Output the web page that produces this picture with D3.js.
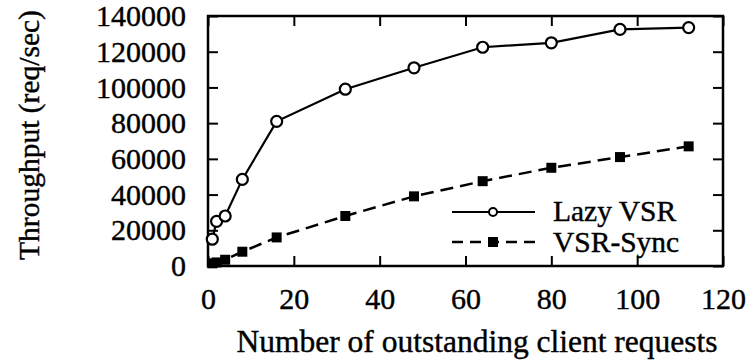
<!DOCTYPE html>
<html>
<head>
<meta charset="utf-8">
<script src="https://cdn.jsdelivr.net/npm/d3@7"></script>
<style>
  body { margin: 0; background: #fff; }
  text { font-family: "Liberation Serif", "Times New Roman", serif; fill: #000; stroke: #000; stroke-width: 0.4px; }
</style>
</head>
<body>
<script>
var width = 749, height = 363

// data
var clients = [1, 2, 4, 8, 16, 32, 48, 64, 80, 96, 112]
var lazyVSR = [15000, 25000, 28000, 48500, 81000, 99000, 111000, 122500, 125000, 132500, 133500]
var vsrSync = [1500, 2000, 3500, 8000, 16000, 28000, 39000, 47500, 55000, 61000, 67000]
var xTicks = [0, 20, 40, 60, 80, 100, 120]
var yTicks = [0, 20000, 40000, 60000, 80000, 100000, 120000, 140000]

var margin = {left: 208, right: 26, top: 16, bottom: 97}

var svg = d3.select("body").append("svg")
    .attr("width", width)
    .attr("height", height)

var x = d3.scaleLinear().domain([0, 120]).range([margin.left, width - margin.right])
var y = d3.scaleLinear().domain([0, 140000]).range([height - margin.bottom, margin.top])

var tick = 10

// ticks on all four sides, pointing inwards
svg.append("g")
  .attr("transform", "translate(0," + y(0) + ")")
  .call(d3.axisBottom(x).tickValues(xTicks).tickSizeInner(-tick).tickSizeOuter(0).tickPadding(22))
svg.append("g")
  .attr("transform", "translate(0," + y(140000) + ")")
  .call(d3.axisTop(x).tickValues(xTicks).tickSizeInner(-tick).tickSizeOuter(0).tickFormat(""))
svg.append("g")
  .attr("transform", "translate(" + x(0) + ",0)")
  .call(d3.axisLeft(y).tickValues(yTicks).tickSizeInner(-tick).tickSizeOuter(0).tickPadding(22).tickFormat(d3.format("d")))
svg.append("g")
  .attr("transform", "translate(" + x(120) + ",0)")
  .call(d3.axisRight(y).tickValues(yTicks).tickSizeInner(-tick).tickSizeOuter(0).tickFormat(""))

svg.selectAll(".domain").remove()
svg.selectAll(".tick line").attr("stroke", "#000").attr("stroke-width", 2)
svg.selectAll(".tick text")
  .style("font-family", '"Liberation Serif", serif')
  .style("font-size", "30px")

// frame
svg.append("rect")
  .attr("x", x(0)).attr("y", y(140000))
  .attr("width", x(120) - x(0)).attr("height", y(0) - y(140000))
  .attr("fill", "none").attr("stroke", "#000").attr("stroke-width", 2.5)

var line = function(vals) {
  return d3.line()
    .x(function(d, i) { return x(clients[i]) })
    .y(function(d) { return y(d) })(vals)
}

// VSR-Sync
svg.append("path")
  .attr("d", line(vsrSync))
  .attr("fill", "none").attr("stroke", "#000").attr("stroke-width", 2.5)
  .attr("stroke-dasharray", "13,7")
svg.selectAll(".sq").data(vsrSync).enter().append("rect")
  .attr("class", "sq")
  .attr("x", function(d, i) { return x(clients[i]) - 5 })
  .attr("y", function(d) { return y(d) - 5 })
  .attr("width", 10).attr("height", 10)
  .attr("fill", "#000")

// Lazy VSR
svg.append("path")
  .attr("d", line(lazyVSR))
  .attr("fill", "none").attr("stroke", "#000").attr("stroke-width", 2.2)
svg.selectAll(".ci").data(lazyVSR).enter().append("circle")
  .attr("class", "ci")
  .attr("cx", function(d, i) { return x(clients[i]) })
  .attr("cy", function(d) { return y(d) })
  .attr("r", 5.5)
  .attr("fill", "#fff").attr("stroke", "#000").attr("stroke-width", 2.2)

// legend
var leg = svg.append("g")
leg.append("line").attr("x1", 452).attr("x2", 535).attr("y1", 212).attr("y2", 212)
  .attr("stroke", "#000").attr("stroke-width", 2.2)
leg.append("circle").attr("cx", 493).attr("cy", 212).attr("r", 4)
  .attr("fill", "#fff").attr("stroke", "#000").attr("stroke-width", 2)
leg.append("text").attr("x", 553).attr("y", 221).style("font-size", "29.5px").text("Lazy VSR")
leg.append("line").attr("x1", 452).attr("x2", 535).attr("y1", 242).attr("y2", 242)
  .attr("stroke", "#000").attr("stroke-width", 2.5).attr("stroke-dasharray", "11,7")
leg.append("rect").attr("x", 488).attr("y", 237).attr("width", 10).attr("height", 10).attr("fill", "#000")
leg.append("text").attr("x", 553).attr("y", 252).style("font-size", "29.5px").text("VSR-Sync")

// axis titles
svg.append("text")
  .attr("x", 477).attr("y", 352)
  .attr("text-anchor", "middle")
  .style("font-size", "31.5px")
  .text("Number of outstanding client requests")
svg.append("text")
  .attr("transform", "translate(39," + ((y(0) + y(140000)) / 2 - 6) + ") rotate(-90)")
  .attr("text-anchor", "middle")
  .style("font-size", "29.5px")
  .text("Throughput (req/sec)")
</script>
</body>
</html>
